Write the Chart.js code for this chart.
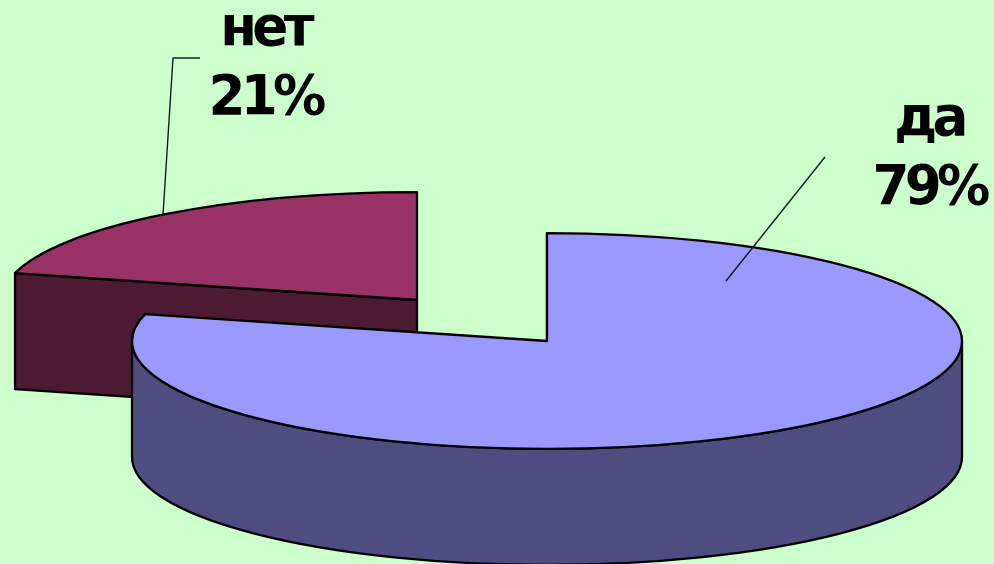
<!DOCTYPE html>
<html>
<head>
<meta charset="utf-8">
<style>
  html, body { margin: 0; padding: 0; background: #ccffcc; }
  canvas { display: block; }
</style>
<script src="https://cdn.jsdelivr.net/npm/chart.js@4/dist/chart.umd.min.js"></script>
</head>
<body>
<canvas id="pie" width="994" height="564"></canvas>
<script>
const categories = ['да', 'нет'];
const percents = [79, 21];
const topColors = ['#9999ff', '#993366'];
const sideColors = ['#4d4d80', '#4d1a33'];

// fake 3D settings
const squash = 0.26;
const depth = 116;
const explode = [[0, 0], [-130, -41]];
// label x and the two baselines for each slice
const labelSpots = [[929, 135, 204], [265, 45, 114]];
const leaders = [
  [[825, 157], [726, 281]],
  [[200, 58], [173, 58], [163, 215]]
];

function outline(ctx, arc) {
  const ry = arc.outerRadius * squash;
  ctx.beginPath();
  ctx.moveTo(arc.x, arc.y);
  ctx.ellipse(arc.x, arc.y, arc.outerRadius, ry, 0, arc.startAngle, arc.endAngle);
  ctx.closePath();
}

function drawSides(ctx, arc, i) {
  const r = arc.outerRadius, ry = r * squash;
  ctx.fillStyle = sideColors[i];
  ctx.strokeStyle = '#000';
  ctx.lineWidth = 2.3;
  ctx.lineJoin = 'round';
  // flat cut face, only seen when the slice starts on the far half
  if (Math.sin(arc.startAngle) < 0) {
    const px = arc.x + Math.cos(arc.startAngle) * r;
    const py = arc.y + Math.sin(arc.startAngle) * ry;
    ctx.beginPath();
    ctx.moveTo(px, py);
    ctx.lineTo(arc.x, arc.y);
    ctx.lineTo(arc.x, arc.y + depth);
    ctx.lineTo(px, py + depth);
    ctx.closePath();
    ctx.fill();
    ctx.stroke();
  }
  // round outer wall on the near half
  const from = Math.max(arc.startAngle, 0), to = Math.min(arc.endAngle, Math.PI);
  if (to > from) {
    ctx.beginPath();
    ctx.ellipse(arc.x, arc.y, r, ry, 0, from, to);
    ctx.ellipse(arc.x, arc.y + depth, r, ry, 0, to, from, true);
    ctx.closePath();
    ctx.fill();
    ctx.stroke();
  }
}

// tight bold text, the original font sits closer than DejaVu
function label(ctx, text, x, y) {
  ctx.fillText(text, x, y, ctx.measureText(text).width * 0.95);
}

const pie3d = {
  id: 'pie3d',
  afterDatasetsUpdate(chart) {
    chart.getDatasetMeta(0).data.forEach((arc, i) => {
      arc.x += explode[i][0];
      arc.y += explode[i][1];
    });
  },
  beforeDatasetsDraw(chart) {
    const ctx = chart.ctx;
    const arcs = chart.getDatasetMeta(0).data;
    // back slice first so the big one covers it
    for (let i = arcs.length - 1; i >= 0; i--) drawSides(ctx, arcs[i], i);
    const cy = (chart.chartArea.top + chart.chartArea.bottom) / 2;
    ctx.save();
    ctx.translate(0, cy);
    ctx.scale(1, squash);
    ctx.translate(0, -cy);
    // arcs are squashed around cy, keep them where they were moved to
    arcs.forEach((arc, i) => {
      arc.y = cy + explode[i][1] / squash;
    });
  },
  afterDatasetsDraw(chart) {
    const ctx = chart.ctx;
    ctx.restore();
    const arcs = chart.getDatasetMeta(0).data;
    const cy = (chart.chartArea.top + chart.chartArea.bottom) / 2;
    arcs.forEach((arc, i) => {
      arc.y = cy + explode[i][1];
      ctx.strokeStyle = '#000';
      ctx.lineWidth = 2.3;
      ctx.lineJoin = 'round';
      outline(ctx, arc);
      ctx.stroke();
    });

    ctx.strokeStyle = '#10201a';
    ctx.lineWidth = 1.4;
    leaders.forEach(pts => {
      ctx.beginPath();
      pts.forEach((p, k) => (k ? ctx.lineTo(p[0], p[1]) : ctx.moveTo(p[0], p[1])));
      ctx.stroke();
    });

    ctx.fillStyle = '#000';
    ctx.textAlign = 'center';
    ctx.textBaseline = 'alphabetic';
    ctx.font = 'bold 56px "DejaVu Sans"';
    ctx.letterSpacing = '-5px';
    categories.forEach((name, i) => {
      const s = labelSpots[i];
      label(ctx, name, s[0], s[1]);
      label(ctx, percents[i] + '%', s[0], s[2]);
    });
    ctx.letterSpacing = '0px';
  }
};

new Chart(document.getElementById('pie'), {
  type: 'pie',
  data: {
    labels: categories,
    datasets: [{
      data: percents,
      backgroundColor: topColors,
      borderWidth: 0,
      radius: 415,
      clip: false
    }]
  },
  options: {
    responsive: false,
    animation: false,
    layout: { padding: { left: 100, top: 118 } },
    plugins: { legend: { display: false }, tooltip: { enabled: false } }
  },
  plugins: [pie3d]
});
</script>
</body>
</html>
